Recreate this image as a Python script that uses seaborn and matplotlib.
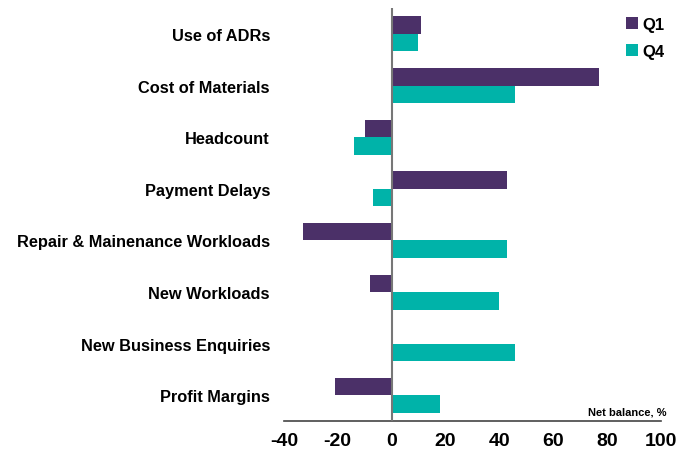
import pandas as pd
import matplotlib
matplotlib.use("Agg")
import matplotlib.pyplot as plt
import seaborn as sns

# values (net balance, %)
categories = ['Use of ADRs', 'Cost of Materials', 'Headcount', 'Payment Delays',
              'Repair & Mainenance Workloads', 'New Workloads',
              'New Business Enquiries', 'Profit Margins']
q1_values = [11, 77, -10, 43, -33, -8, 0, -21]
q4_values = [10, 46, -14, -7, 43, 40, 46, 18]
series_names = ['Q1', 'Q4']
x_ticks = [-40, -20, 0, 20, 40, 60, 80, 100]

colors = {'Q1': '#4B3068', 'Q4': '#00B3A9'}

df = pd.DataFrame({
    'Category': categories * 2,
    'Quarter': ['Q1'] * len(categories) + ['Q4'] * len(categories),
    'Value': q1_values + q4_values,
})

sns.set_style("white")
plt.rcParams['font.family'] = ['Liberation Sans', 'DejaVu Sans']
plt.rcParams['text.color'] = 'black'
plt.rcParams['xtick.color'] = 'black'
plt.rcParams['ytick.color'] = 'black'

fig = plt.figure(figsize=(6.89, 4.52), dpi=100)
ax = fig.add_axes([0.412, 0.066, 0.547, 0.914])

sns.barplot(data=df, y='Category', x='Value', hue='Quarter', order=categories,
            hue_order=series_names, palette=colors, orient='h', width=0.68,
            saturation=1, edgecolor='none', ax=ax)

ax.set_xlim(-40, 100)
ax.set_ylim(7.5, -0.5)
ax.set_xticks(x_ticks)
ax.set_xticklabels([str(t) for t in x_ticks], fontsize=14, fontweight='bold')
ax.tick_params(axis='x', length=0, pad=8)
ax.tick_params(axis='y', length=0, pad=10)
for lab in ax.get_yticklabels():
    lab.set_fontsize(11.8)
    lab.set_fontweight('bold')
ax.set_xlabel('')
ax.set_ylabel('')

for side in ['top', 'right', 'left']:
    ax.spines[side].set_visible(False)
ax.spines['bottom'].set_color('#444444')
ax.spines['bottom'].set_linewidth(1.2)
ax.axvline(0, color='#777777', linewidth=1.5, zorder=3)

ax.text(1.015, 0.012, 'Net balance, %', transform=ax.transAxes, ha='right',
        va='bottom', fontsize=8, fontweight='bold')

ax.legend(loc='upper right', bbox_to_anchor=(1.05, 1.015), frameon=False,
          handlelength=0.75, handleheight=0.75, handletextpad=0.25,
          labelspacing=0.7, prop={'size': 12, 'weight': 'bold'})

fig.savefig('out.png', dpi=100)
